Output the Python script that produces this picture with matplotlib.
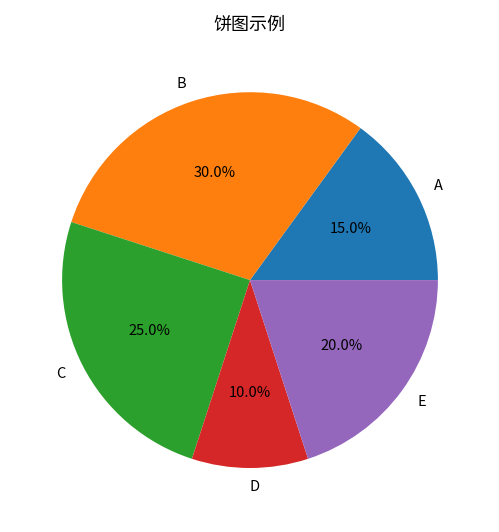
import matplotlib
matplotlib.use("Agg")
import matplotlib.pyplot as plt

plt.rcParams['font.family'] = ['Noto Sans CJK SC', 'DejaVu Sans']

labels = ['A', 'B', 'C', 'D', 'E']
sizes = [15, 30, 25, 10, 20]

fig = plt.figure(figsize=(4.99, 5.32), dpi=100)
# pie uses limits of +-1.25, so the axes is 2.5 radii wide (radius about 188 px)
ax = fig.add_axes([0.030, 0.032, 0.942, 0.883])
ax.pie(sizes, labels=labels, autopct='%1.1f%%',
       textprops={'fontsize': 10.5})
ax.set_aspect('equal')
fig.text(0.5, 0.953, '饼图示例', ha='center', va='center', fontsize=13)
fig.savefig('out.png', dpi=100)
